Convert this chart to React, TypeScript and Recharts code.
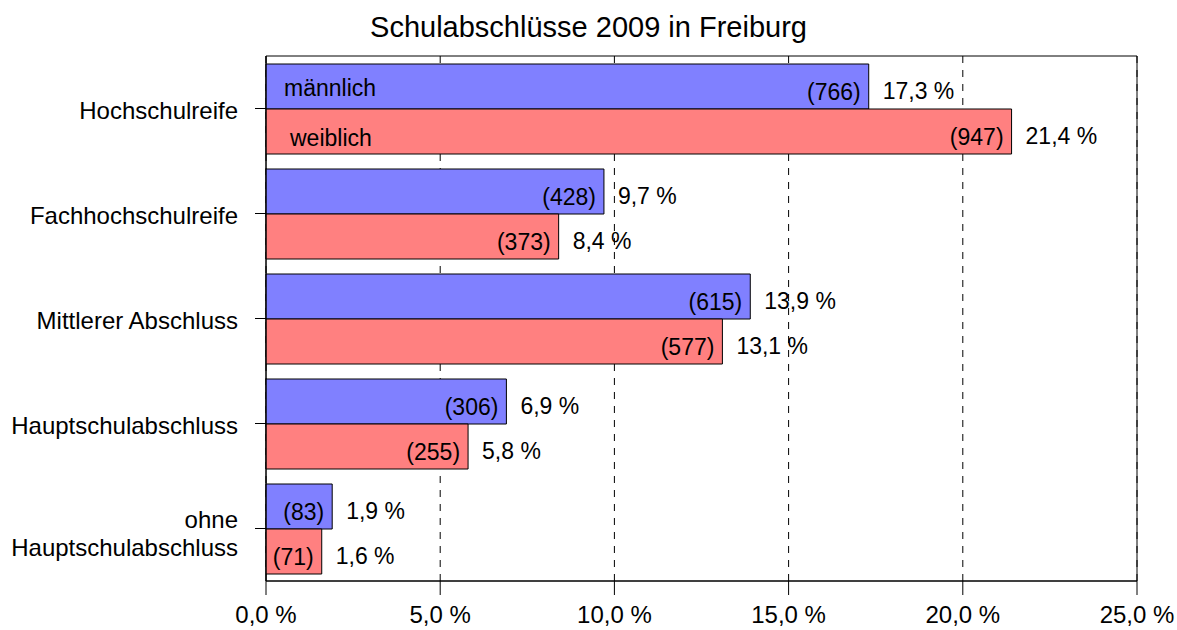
import React from 'react'
import { BarChart, Bar, XAxis, YAxis, CartesianGrid, LabelList, ReferenceArea } from 'recharts'

const categories = ['Hochschulreife', 'Fachhochschulreife', 'Mittlerer Abschluss', 'Hauptschulabschluss', 'ohne Hauptschulabschluss']
const maleShare = [17.3, 9.7, 13.9, 6.9, 1.9]
const maleCount = [766, 428, 615, 306, 83]
const femaleShare = [21.4, 8.4, 13.1, 5.8, 1.6]
const femaleCount = [947, 373, 577, 255, 71]
const seriesNames = ['männlich', 'weiblich']
const xTicks = [0, 5, 10, 15, 20, 25]

const data = categories.map((name, i) => ({
  name,
  m: maleShare[i],
  w: femaleShare[i],
  mc: maleCount[i],
  wc: femaleCount[i],
}))

const font = '"Liberation Sans", Arial, sans-serif'

const box = (props: any) => {
  const vb = props.viewBox || props
  return { x: Number(vb.x), y: Number(vb.y), width: Number(vb.width), height: Number(vb.height) }
}

const CountLabel = (props: any) => {
  const { x, y, width, height } = box(props)
  return (
    <text x={x + width - 8} y={y + height / 2 + 5} textAnchor="end" dominantBaseline="central" fontSize={23} fill="#000" fontFamily={font}>
      ({props.value})
    </text>
  )
}

const ShareLabel = (props: any) => {
  const { x, y, width, height } = box(props)
  return (
    <text x={x + width + 14} y={y + height / 2 + 4} textAnchor="start" dominantBaseline="central" fontSize={23} fill="#000" fontFamily={font}>
      {Number(props.value).toFixed(1).replace('.', ',')} %
    </text>
  )
}

const seriesLabel = (idx: number, dx: number, dy: number) => (props: any) => {
  if (props.index !== 0) return null
  const { x, y, height } = box(props)
  return (
    <text x={x + dx} y={y + height / 2 + dy} textAnchor="start" dominantBaseline="central" fontSize={23} fill="#000" fontFamily={font}>
      {seriesNames[idx]}
    </text>
  )
}

const CategoryTick = (props: any) => {
  const { x, y, payload } = props
  const words = String(payload.value)
  const lines = words.startsWith('ohne ') ? ['ohne', words.slice(5)] : [words]
  const start = lines.length > 1 ? -9 : 2
  return (
    <text x={x} y={y} textAnchor="end" fontSize={24} fill="#000" fontFamily={font}>
      {lines.map((l, i) => (
        <tspan key={i} x={x} y={y + start + i * 28} dominantBaseline="central">{l}</tspan>
      ))}
    </text>
  )
}

export default function App() {
  return (
    <div style={{ position: 'absolute', left: 0, top: 0, width: 1177, height: 630, background: '#fff', fontFamily: font }}>
      <div style={{ position: 'absolute', left: 0, top: 11, width: 1177, textAlign: 'center', fontSize: 29, color: '#000' }}>
        Schulabschlüsse 2009 in Freiburg
      </div>
      <BarChart
        width={1177}
        height={630}
        data={data}
        layout="vertical"
        margin={{ top: 56, right: 40, bottom: 0, left: 0 }}
        barCategoryGap={8}
        barGap={0}
        style={{ fontFamily: font }}
      >
        <CartesianGrid horizontal={false} vertical stroke="#000" strokeDasharray="7 7" />
        <XAxis
          type="number"
          domain={[0, 25]}
          ticks={xTicks}
          height={49}
          tickSize={14}
          tickMargin={11}
          stroke="#000"
          tick={{ fill: '#000', fontSize: 24 }}
          tickFormatter={(v: number) => `${v.toFixed(1).replace('.', ',')} %`}
          interval={0}
        />
        <YAxis
          type="category"
          dataKey="name"
          width={266}
          tickSize={11}
          tickMargin={17}
          stroke="#000"
          tick={<CategoryTick />}
          interval={0}
        />
        <ReferenceArea x1={0} x2={25} fill="none" fillOpacity={0} stroke="#000" strokeWidth={1} ifOverflow="visible" />
        <Bar dataKey="m" fill="#8080ff" stroke="#000" strokeWidth={1} isAnimationActive={false}>
          <LabelList dataKey="mc" content={CountLabel} />
          <LabelList dataKey="m" content={ShareLabel} />
          <LabelList dataKey="m" content={seriesLabel(0, 18, 1)} />
        </Bar>
        <Bar dataKey="w" fill="#ff8080" stroke="#000" strokeWidth={1} isAnimationActive={false}>
          <LabelList dataKey="wc" content={CountLabel} />
          <LabelList dataKey="w" content={ShareLabel} />
          <LabelList dataKey="w" content={seriesLabel(1, 24, 6)} />
        </Bar>
      </BarChart>
    </div>
  )
}
